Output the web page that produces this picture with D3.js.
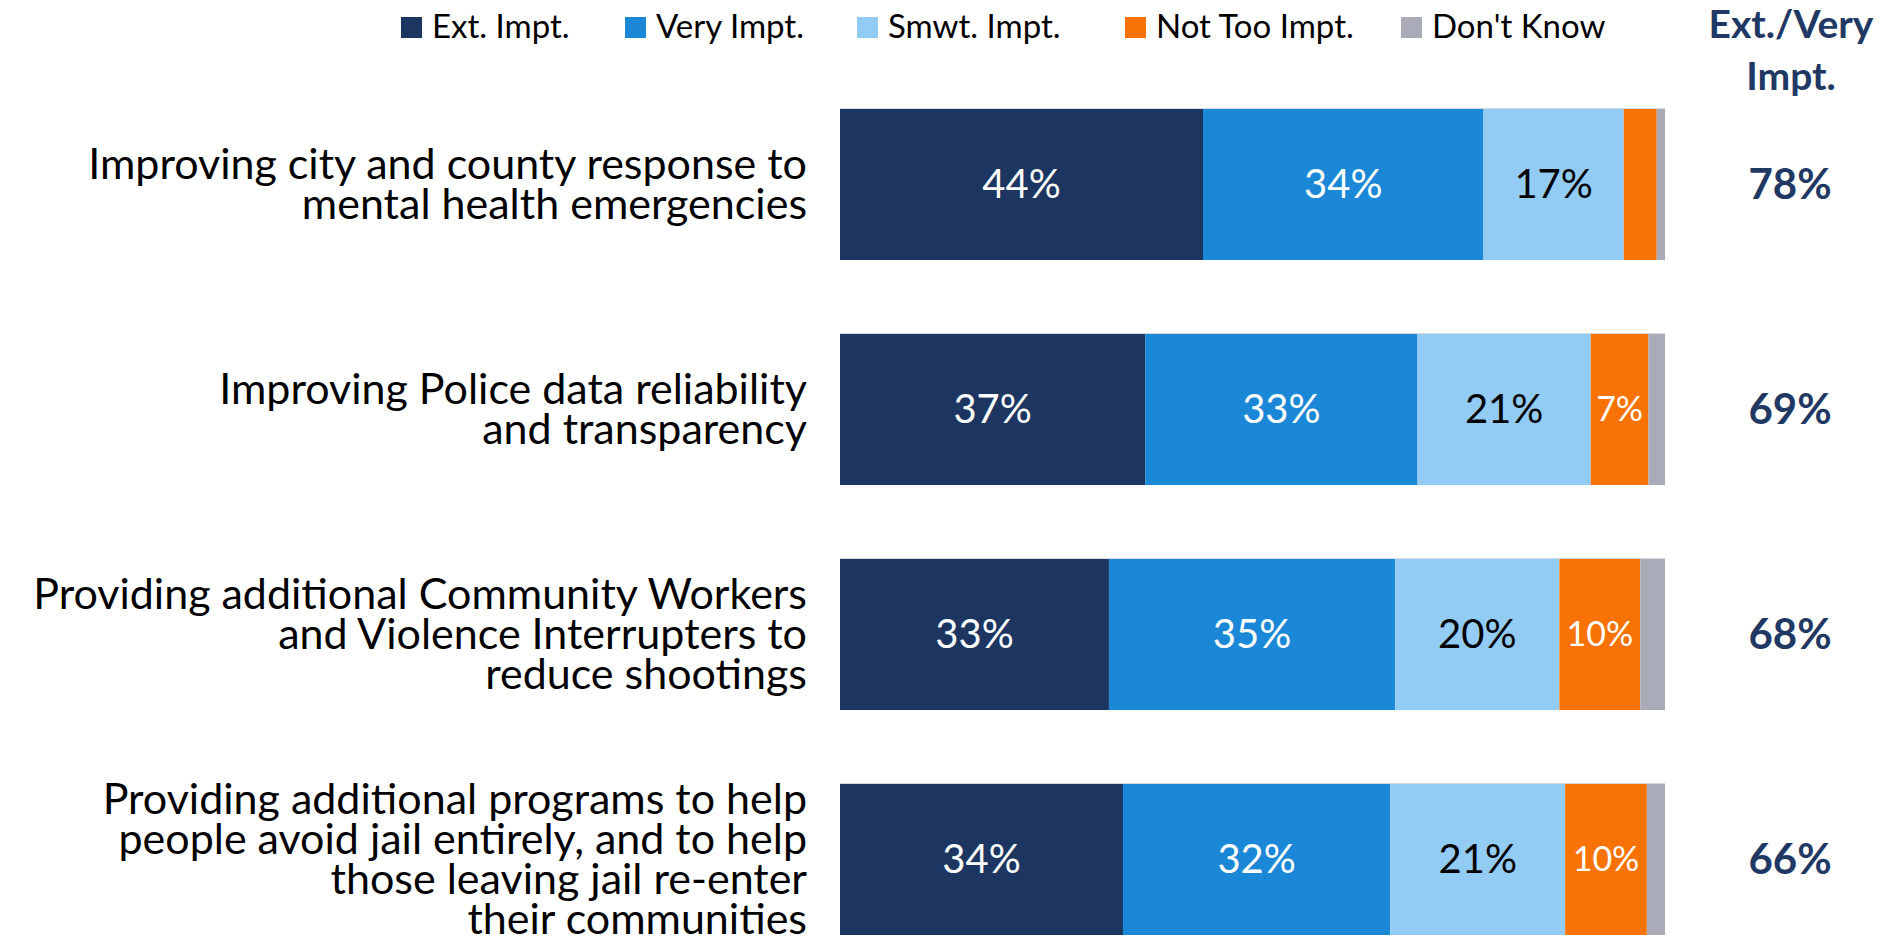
<!DOCTYPE html>
<html>
<head>
<meta charset="utf-8">
<script src="https://cdn.jsdelivr.net/npm/d3@7"></script>
<style>
  html, body { margin: 0; padding: 0; background: #fff; }
  svg { display: block; font-family: Lato, "Open Sans", sans-serif; }
</style>
</head>
<body>
<svg id="chart" width="1889" height="937"></svg>
<script>
// ---- data ----
const categories = [
  ["Improving city and county response to", "mental health emergencies"],
  ["Improving Police data reliability", "and transparency"],
  ["Providing additional Community Workers", "and Violence Interrupters to", "reduce shootings"],
  ["Providing additional programs to help", "people avoid jail entirely, and to help", "those leaving jail re-enter", "their communities"]
];
const seriesNames = ["Ext. Impt.", "Very Impt.", "Smwt. Impt.", "Not Too Impt.", "Don't Know"];
const extImpt    = [44, 37, 32.6, 34.3];
const veryImpt   = [34, 33, 34.7, 32.4];
const smwtImpt   = [17, 21, 19.9, 21.2];
const notTooImpt = [4, 7, 9.8, 9.9];
const dontKnow   = [1, 2, 3.0, 2.2];
const extVeryTotal = [78, 69, 68, 66];
const headerLines = ["Ext./Very", "Impt."];

const colors = ["#1C3661", "#1A87D7", "#92CBF3", "#F97304", "#A9ABB9"];
const labelColors = ["#fff", "#fff", "#000", "#fff", "#fff"];

const series = [extImpt, veryImpt, smwtImpt, notTooImpt, dontKnow];
const rows = categories.map((c, i) => {
  const r = { idx: i };
  seriesNames.forEach((s, k) => r[s] = series[k][i]);
  return r;
});
const stacked = d3.stack().keys(seriesNames)(rows);

const svg = d3.select("#chart");

const x = d3.scaleLinear().domain([0, 100]).range([840, 1665]);
const y = d3.scaleBand().domain(d3.range(categories.length))
  .range([108, 935]).paddingInner(73 / 225).paddingOuter(0);

// bars
const layers = svg.append("g").selectAll("g").data(stacked).join("g")
  .attr("fill", (d, i) => colors[i]);
layers.selectAll("rect").data(d => d).join("rect")
  .attr("x", d => x(d[0]))
  .attr("y", d => y(d.data.idx))
  .attr("width", d => x(d[1]) - x(d[0]))
  .attr("height", y.bandwidth());

// top hairline on bars
svg.append("g").selectAll("line").data(d3.range(categories.length)).join("line")
  .attr("x1", x(0)).attr("x2", x(100))
  .attr("y1", d => y(d) + 0.5).attr("y2", d => y(d) + 0.5)
  .attr("stroke", "#d6dae2").attr("stroke-width", 1);

// segment labels
stacked.forEach((layer, k) => {
  svg.append("g").selectAll("text").data(layer.filter(d => (d[1] - d[0]) >= 5)).join("text")
    .attr("x", d => (x(d[0]) + x(d[1])) / 2)
    .attr("y", d => y(d.data.idx) + y.bandwidth() / 2)
    .attr("dy", "0.36em")
    .attr("text-anchor", "middle")
    .attr("fill", labelColors[k])
    .attr("font-size", k === 3 ? 34 : 40)
    .text(d => Math.round(d[1] - d[0]) + "%");
});

// category labels
const catG = svg.append("g");
categories.forEach((lines, i) => {
  const cy = y(i) + y.bandwidth() / 2;
  const t = catG.append("text")
    .attr("text-anchor", "end")
    .attr("font-size", 43)
    .attr("fill", "#000");
  lines.forEach((ln, j) => {
    t.append("tspan")
      .attr("x", 807)
      .attr("y", cy + (j - (lines.length - 1) / 2) * 40)
      .attr("dy", "0.36em")
      .text(ln);
  });
});

// right column values
svg.append("g").selectAll("text").data(extVeryTotal).join("text")
  .attr("x", 1790)
  .attr("y", (d, i) => y(i) + y.bandwidth() / 2)
  .attr("dy", "0.36em")
  .attr("text-anchor", "middle")
  .attr("font-weight", "bold")
  .attr("font-size", 42)
  .attr("fill", "#1F3864")
  .text(d => d + "%");

// header
const hdr = svg.append("text").attr("text-anchor", "middle")
  .attr("font-weight", "bold").attr("font-size", 39).attr("fill", "#1F3864");
headerLines.forEach((ln, j) => {
  hdr.append("tspan").attr("x", 1791).attr("y", 38 + j * 52).text(ln);
});

// legend
const legendX = [401, 625, 857, 1125, 1401];
const lg = svg.append("g").selectAll("g").data(seriesNames).join("g")
  .attr("transform", (d, i) => `translate(${legendX[i]},0)`);
lg.append("rect").attr("x", 0).attr("y", 17).attr("width", 21).attr("height", 21)
  .attr("fill", (d, i) => colors[i]);
lg.append("text").attr("x", 31).attr("y", 38).attr("font-size", 33).attr("fill", "#000")
  .text(d => d);
</script>
</body>
</html>
